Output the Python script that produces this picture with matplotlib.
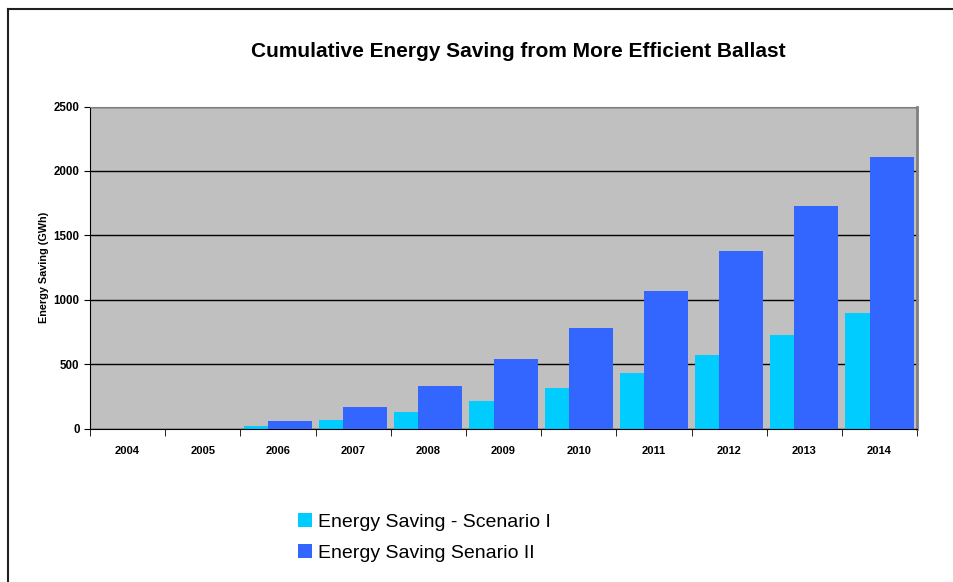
import numpy as np
import matplotlib
matplotlib.use("Agg")
from matplotlib import pyplot as plt
from matplotlib.lines import Line2D

# data
years = ["2004", "2005", "2006", "2007", "2008", "2009", "2010", "2011", "2012", "2013", "2014"]
scenario_1 = [0, 0, 22, 68, 130, 215, 319, 432, 572, 727, 896]
scenario_2 = [0, 0, 60, 169, 332, 541, 781, 1067, 1378, 1726, 2105]

plt.rcParams['font.family'] = ['Liberation Sans', 'DejaVu Sans']

fig = plt.figure(figsize=(9.54, 5.82), dpi=100)
ax = fig.add_axes([0.0943, 0.263, 0.867, 0.554])

x = np.arange(len(years))
w = 0.585
ax.bar(x - 0.16, scenario_1, w, color="#00CCFF", label="Energy Saving - Scenario I", zorder=2)
ax.bar(x + 0.16, scenario_2, w, color="#3366FF", label="Energy Saving Senario II", zorder=3)

ax.set_facecolor("#C0C0C0")
ax.set_xlim(-0.5, len(years) - 0.5)
ax.set_ylim(0, 2500)
ax.set_yticks([0, 500, 1000, 1500, 2000, 2500])
ax.grid(axis="y", color="black", linewidth=1, zorder=1)
ax.set_axisbelow(True)

# category labels between tick marks at the boundaries
ax.set_xticks(x)
ax.set_xticklabels(years, fontsize=8, fontweight="bold")
ax.tick_params(axis="x", length=0, pad=12)
ax.set_xticks(np.arange(-0.5, len(years)), minor=True)
ax.tick_params(axis="x", which="minor", length=5, direction="out", color="black")
ax.tick_params(axis="y", labelsize=8.3, length=4, direction="out", color="black")
for lab in ax.get_yticklabels():
    lab.set_fontweight("bold")

ax.spines["left"].set_color("black")
ax.spines["bottom"].set_color("black")
ax.spines["top"].set_color("#808080")
ax.spines["right"].set_color("#808080")
ax.spines["right"].set_linewidth(2)

ax.set_ylabel("Energy Saving (GWh)", fontsize=7.8, fontweight="bold", labelpad=3)
fig.text(0.543, 0.912, "Cumulative Energy Saving from More Efficient Ballast",
         ha="center", va="center", fontsize=15, fontweight="bold")

ax.legend(loc="upper left", bbox_to_anchor=(0.252, -0.262), frameon=False,
          fontsize=14, handlelength=0.72, handleheight=0.72, handletextpad=0.3,
          labelspacing=0.68, borderaxespad=0, borderpad=0)

# outer frame (left and top only visible)
fig.add_artist(Line2D([0.0084, 0.0084], [0, 0.985], transform=fig.transFigure, color="#202020", lw=1.5))
fig.add_artist(Line2D([0.0084, 1.0], [0.985, 0.985], transform=fig.transFigure, color="#202020", lw=1.5))

plt.savefig("out.png", dpi=100)
